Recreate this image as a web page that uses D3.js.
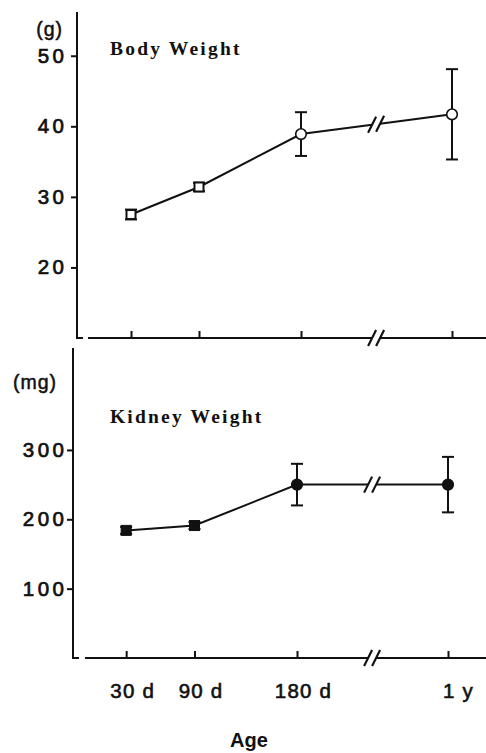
<!DOCTYPE html>
<html><head><meta charset="utf-8">
<script src="https://cdn.jsdelivr.net/npm/d3@7"></script>
<style>body{margin:0;background:#fff} svg{display:block}</style>
</head><body>
<svg id="c" width="486" height="753"></svg>
<script>
// ---- data ----
const ages = ["30 d", "90 d", "180 d", "1 y"];
const ageDays = [30, 90, 180, 365];
const bodyMean = [27.5, 31.4, 38.9, 41.7];
const bodyErr = [0.7, 0.6, 3.1, 6.4];
const kidneyMean = [184, 191, 250, 250];
const kidneyErr = [5, 5, 30, 40];
const bodyTicks = [20, 30, 40, 50];
const kidneyTicks = [100, 200, 300];
const breakDay = 272;

const svg = d3.select("#c");
const W = 486;
const sansFont = "'Liberation Sans', Arial, Helvetica, sans-serif";
const serifFont = "'Liberation Serif', 'Times New Roman', serif";

const panels = [
  {mean: bodyMean, err: bodyErr, ticks: bodyTicks, yDomain: [10, 56.2], yRange: [338, 12],
   xRange: [97, 301, 452], axisX: 77, axisStart: 88, unit: "(g)", unitX: 63, unitY: 36,
   title: "Body Weight", titleY: 55, filled: false, labels: false, tickPad: 7},
  {mean: kidneyMean, err: kidneyErr, ticks: kidneyTicks, yDomain: [0, 447], yRange: [658, 348],
   xRange: [92, 297, 448], axisX: 73, axisStart: 85, unit: "(mg)", unitX: 57, unitY: 389,
   title: "Kidney Weight", titleY: 423, filled: true, labels: true, tickPad: 3}
];

function slash(g, x, y) {
  g.append("line").attr("x1", x - 4).attr("y1", y + 8).attr("x2", x + 4).attr("y2", y - 8)
    .attr("stroke", "#111").attr("stroke-width", 2.2);
}

panels.forEach(p => {
  const g = svg.append("g");
  const x = d3.scaleLinear().domain([0, 180, 365]).range(p.xRange);
  const y = d3.scaleLinear().domain(p.yDomain).range(p.yRange);
  const yBottom = p.yRange[0];

  // y axis
  const ya = g.append("g").attr("transform", `translate(${p.axisX},0)`)
    .call(d3.axisLeft(y).tickValues(p.ticks).tickSize(6).tickPadding(p.tickPad));
  ya.select(".domain").remove();
  ya.selectAll(".tick line").attr("stroke", "#111").attr("stroke-width", 2);
  ya.selectAll(".tick text").attr("font-family", sansFont).attr("font-size", 20.5)
    .attr("fill", "#111").attr("stroke", "#111").attr("stroke-width", 0.7)
    .attr("letter-spacing", 3.5).attr("dx", 3.5);
  g.append("line").attr("x1", p.axisX).attr("x2", p.axisX)
    .attr("y1", p.yRange[1]).attr("y2", yBottom).attr("stroke", "#111").attr("stroke-width", 2);
  g.append("line").attr("x1", p.axisX - 1).attr("x2", p.axisX + 6)
    .attr("y1", yBottom).attr("y2", yBottom).attr("stroke", "#111").attr("stroke-width", 2);

  // x axis
  const xa = g.append("g").attr("transform", `translate(0,${yBottom})`)
    .call(d3.axisBottom(x).tickValues(ageDays).tickSize(-7).tickPadding(25)
      .tickFormat((d, i) => p.labels ? ages[i] : ""));
  xa.select(".domain").remove();
  xa.selectAll(".tick line").attr("stroke", "#111").attr("stroke-width", 2);
  xa.selectAll(".tick text").attr("font-family", sansFont).attr("font-size", 20.5)
    .attr("fill", "#111").attr("stroke", "#111").attr("stroke-width", 0.6)
    .attr("letter-spacing", 1.2).attr("dx", (d, i) => i === 3 ? 10 : 6);
  const bx = x(breakDay), gap = 4;
  g.append("line").attr("x1", p.axisStart).attr("x2", bx - gap).attr("y1", yBottom).attr("y2", yBottom)
    .attr("stroke", "#111").attr("stroke-width", 2);
  g.append("line").attr("x1", bx + gap).attr("x2", W).attr("y1", yBottom).attr("y2", yBottom)
    .attr("stroke", "#111").attr("stroke-width", 2);
  slash(g, bx - gap, yBottom); slash(g, bx + gap, yBottom);

  // unit + title
  g.append("text").attr("x", p.unitX).attr("y", p.unitY).attr("text-anchor", "end")
    .attr("font-family", sansFont).attr("font-size", 19.5).attr("fill", "#111")
    .attr("letter-spacing", 1)
    .attr("stroke", "#111").attr("stroke-width", 0.5).text(p.unit);
  g.append("text").attr("x", 110).attr("y", p.titleY).attr("font-family", serifFont)
    .attr("font-weight", "bold").attr("font-size", 19.5).attr("letter-spacing", 2.2)
    .attr("fill", "#111").text(p.title);

  // data line with break
  const pts = ageDays.map((d, i) => [x(d), y(p.mean[i])]);
  const line = d3.line();
  const p2 = pts[2], p3 = pts[3];
  const t = (bx - p2[0]) / (p3[0] - p2[0]);
  const by = p2[1] + t * (p3[1] - p2[1]);
  const slope = (p3[1] - p2[1]) / (p3[0] - p2[0]);
  const a = [bx - gap, by - gap * slope], b = [bx + gap, by + gap * slope];
  g.append("path").attr("d", line([pts[0], pts[1], pts[2], a])).attr("fill", "none")
    .attr("stroke", "#111").attr("stroke-width", 2);
  g.append("path").attr("d", line([b, pts[3]])).attr("fill", "none")
    .attr("stroke", "#111").attr("stroke-width", 2);
  slash(g, a[0], a[1]); slash(g, b[0], b[1]);

  // error bars
  ageDays.forEach((d, i) => {
    const cx = x(d), y1 = y(p.mean[i] + p.err[i]), y0 = y(p.mean[i] - p.err[i]);
    const cw = 6;
    g.append("line").attr("x1", cx).attr("x2", cx).attr("y1", y1).attr("y2", y0)
      .attr("stroke", "#111").attr("stroke-width", 2);
    [y1, y0].forEach(yy => g.append("line").attr("x1", cx - cw).attr("x2", cx + cw)
      .attr("y1", yy).attr("y2", yy).attr("stroke", "#111").attr("stroke-width", 2));
  });

  // markers
  ageDays.forEach((d, i) => {
    const cx = x(d), cy = y(p.mean[i]);
    const fill = p.filled ? "#111" : "#fff";
    if (i < 2) {
      const s = p.filled ? 10 : 9;
      g.append("rect").attr("x", cx - s / 2).attr("y", cy - s / 2).attr("width", s).attr("height", s)
        .attr("fill", fill).attr("stroke", "#111").attr("stroke-width", p.filled ? 1 : 2);
    } else {
      g.append("circle").attr("cx", cx).attr("cy", cy).attr("r", 5.3)
        .attr("fill", fill).attr("stroke", "#111").attr("stroke-width", 1.6);
    }
  });
});

svg.append("text").attr("x", 249).attr("y", 747).attr("text-anchor", "middle")
  .attr("font-family", sansFont).attr("font-weight", "bold").attr("font-size", 20)
  .attr("fill", "#111").text("Age");
</script>
</body></html>
